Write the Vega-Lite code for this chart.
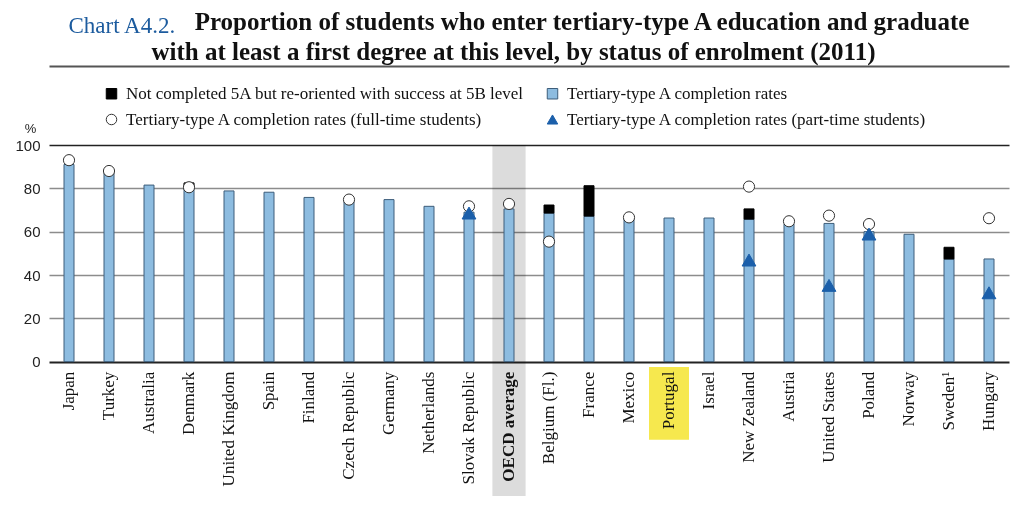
{
  "$schema": "https://vega.github.io/schema/vega-lite/v6.json",
  "width": 960,
  "height": 351,
  "autosize": {"type": "none"},
  "padding": {"left": 49, "top": 145, "right": 15, "bottom": 9},
  "background": "white",
  "config": {
    "view": {"stroke": null},
    "font": "Liberation Serif",
    "legend": {
      "orient": "none",
      "legendX": 54,
      "legendY": -60,
      "columns": 2,
      "columnPadding": 20,
      "rowPadding": 8,
      "labelFont": "Liberation Serif",
      "labelFontSize": 17,
      "labelColor": "#111111",
      "labelLimit": 700,
      "symbolSize": 110,
      "symbolStrokeWidth": 1,
      "labelOffset": 6
    }
  },
  "title": {
    "text": "Proportion of students who enter tertiary-type A education and graduate",
    "anchor": "middle",
    "frame": "group",
    "font": "Liberation Serif",
    "fontSize": 25,
    "fontWeight": "bold",
    "color": "#111111",
    "offset": -21,
    "dx": 53
  },
  "resolve": {"axis": {"x": "independent"}},
  "data": {
    "values": [
      {"country": "Japan", "rate": 91, "ft": 93},
      {"country": "Turkey", "rate": 87, "ft": 88},
      {"country": "Australia", "rate": 81.5},
      {"country": "Denmark", "rate": 80, "total": 82.5, "ft": 80.5},
      {"country": "United Kingdom", "rate": 78.8},
      {"country": "Spain", "rate": 78.2},
      {"country": "Finland", "rate": 75.8},
      {"country": "Czech Republic", "rate": 74, "ft": 74.8},
      {"country": "Germany", "rate": 74.8},
      {"country": "Netherlands", "rate": 71.7},
      {"country": "Slovak Republic", "rate": 69, "ft": 71.7, "pt": 68.6},
      {"country": "OECD average", "rate": 70.5, "ft": 72.8},
      {"country": "Belgium (Fl.)", "rate": 68.6, "total": 72.3, "ft": 55.4},
      {"country": "France", "rate": 67.2, "total": 81.2},
      {"country": "Mexico", "rate": 66, "ft": 66.6},
      {"country": "Portugal", "rate": 66.3},
      {"country": "Israel", "rate": 66.3},
      {"country": "New Zealand", "rate": 65.8, "total": 70.5, "ft": 80.8, "pt": 46.9},
      {"country": "Austria", "rate": 63.5, "ft": 64.8},
      {"country": "United States", "rate": 63.8, "ft": 67.4, "pt": 35.2},
      {"country": "Poland", "rate": 60, "ft": 63.5, "pt": 58.9},
      {"country": "Norway", "rate": 58.8},
      {"country": "Sweden¹", "rate": 47.4, "total": 52.8},
      {"country": "Hungary", "rate": 47.4, "ft": 66.2, "pt": 31.8}
    ]
  },
  "layer": [
    {
      "transform": [{"filter": "datum.country === 'OECD average'"}],
      "mark": {"type": "bar", "color": "#dcdcdc", "blend": "multiply", "width": {"band": 0.83}},
      "encoding": {
        "x": {
          "field": "country",
          "type": "nominal",
          "scale": {
            "domain": ["Japan", "Turkey", "Australia", "Denmark", "United Kingdom", "Spain", "Finland", "Czech Republic", "Germany", "Netherlands", "Slovak Republic", "OECD average", "Belgium (Fl.)", "France", "Mexico", "Portugal", "Israel", "New Zealand", "Austria", "United States", "Poland", "Norway", "Sweden¹", "Hungary"],
            "paddingInner": 0,
            "paddingOuter": 0
          },
          "axis": {
            "orient": "top",
            "offset": 79,
            "labels": false,
            "ticks": false,
            "grid": false,
            "domain": true,
            "domainColor": "#555555",
            "domainWidth": 2,
            "title": "Chart A4.2.",
            "titleFont": "Liberation Serif",
            "titleFontSize": 23,
            "titleFontWeight": "normal",
            "titleColor": "#1c5b9e",
            "titleAlign": "left",
            "titleBaseline": "alphabetic",
            "titleAngle": 0,
            "titleX": 19,
            "titleY": -34
          }
        },
        "y": {
          "datum": 100,
          "type": "quantitative",
          "scale": {"domain": [-62, 100], "nice": false, "zero": false},
          "axis": {
            "values": [0, 10, 20, 30, 40, 50, 60, 70, 80, 90, 100],
            "labelOverlap": false,
            "grid": true,
            "gridColor": {"condition": {"test": "datum.value === 0 || datum.value === 100", "value": "#222222"}, "value": "#8c8c8c"},
            "gridWidth": {"condition": {"test": "datum.value === 0", "value": 2}, "value": 1.4},
            "domain": false,
            "ticks": false,
            "labelFont": "Liberation Sans",
            "labelFontSize": 15,
            "labelColor": "#222222",
            "labelPadding": 9,
            "title": "%",
            "titleFont": "Liberation Sans",
            "titleFontSize": 13,
            "titleFontWeight": "normal",
            "titleColor": "#222222",
            "titleAngle": 0,
            "titleAlign": "center",
            "titleBaseline": "alphabetic",
            "titleX": -19,
            "titleY": -13
          }
        },
        "y2": {"datum": -62}
      }
    },
    {
      "transform": [{"filter": "datum.country === 'Portugal'"}],
      "mark": {"type": "bar", "color": "#f6e84e", "width": {"band": 1}},
      "encoding": {
        "x": {"field": "country", "type": "nominal", "axis": null},
        "y": {"datum": -2.5, "type": "quantitative"},
        "y2": {"datum": -36}
      }
    },
    {
      "mark": {"type": "bar", "width": {"band": 0.25}, "strokeWidth": 1},
      "encoding": {
        "x": {"field": "country", "type": "nominal", "axis": null},
        "y": {"field": "rate", "type": "quantitative"},
        "fill": {
          "datum": "Tertiary-type A completion rates",
          "type": "nominal",
          "scale": {
            "domain": ["Not completed 5A but re-oriented with success at 5B level", "Tertiary-type A completion rates (full-time students)", "Tertiary-type A completion rates", "Tertiary-type A completion rates (part-time students)"],
            "range": ["#000000", "#ffffff", "#8dbce0", "#1b5faa"]
          },
          "legend": {"title": null}
        },
        "stroke": {
          "datum": "Tertiary-type A completion rates",
          "type": "nominal",
          "scale": {
            "domain": ["Not completed 5A but re-oriented with success at 5B level", "Tertiary-type A completion rates (full-time students)", "Tertiary-type A completion rates", "Tertiary-type A completion rates (part-time students)"],
            "range": ["#000000", "#333333", "#3d5d7a", "#1b5faa"]
          },
          "legend": {"title": null}
        }
      }
    },
    {
      "transform": [{"filter": "isValid(datum.total)"}],
      "mark": {"type": "bar", "width": {"band": 0.25}, "strokeWidth": 1},
      "encoding": {
        "x": {"field": "country", "type": "nominal", "axis": null},
        "y": {"field": "rate", "type": "quantitative"},
        "y2": {"field": "total"},
        "fill": {"datum": "Not completed 5A but re-oriented with success at 5B level", "type": "nominal", "legend": {"title": null}},
        "stroke": {"datum": "Not completed 5A but re-oriented with success at 5B level", "type": "nominal", "legend": {"title": null}}
      }
    },
    {
      "transform": [{"filter": "isValid(datum.ft)"}],
      "mark": {"type": "point", "filled": true, "size": 125, "strokeWidth": 1, "opacity": 1},
      "encoding": {
        "x": {"field": "country", "type": "nominal", "axis": null},
        "y": {"field": "ft", "type": "quantitative"},
        "fill": {"datum": "Tertiary-type A completion rates (full-time students)", "type": "nominal", "legend": {"title": null}},
        "stroke": {"datum": "Tertiary-type A completion rates (full-time students)", "type": "nominal", "legend": {"title": null}},
        "shape": {
          "datum": "Tertiary-type A completion rates (full-time students)",
          "type": "nominal",
          "scale": {
            "domain": ["Not completed 5A but re-oriented with success at 5B level", "Tertiary-type A completion rates (full-time students)", "Tertiary-type A completion rates", "Tertiary-type A completion rates (part-time students)"],
            "range": ["square", "circle", "square", "triangle-up"]
          },
          "legend": {"title": null}
        }
      }
    },
    {
      "transform": [{"filter": "isValid(datum.pt)"}],
      "mark": {"type": "point", "filled": true, "size": 190, "strokeWidth": 1, "opacity": 1},
      "encoding": {
        "x": {"field": "country", "type": "nominal", "axis": null},
        "y": {"field": "pt", "type": "quantitative"},
        "fill": {"datum": "Tertiary-type A completion rates (part-time students)", "type": "nominal", "legend": {"title": null}},
        "stroke": {"datum": "Tertiary-type A completion rates (part-time students)", "type": "nominal", "legend": {"title": null}},
        "shape": {"datum": "Tertiary-type A completion rates (part-time students)", "type": "nominal", "legend": {"title": null}}
      }
    },
    {
      "transform": [{"filter": "datum.country !== 'OECD average'"}],
      "mark": {"type": "text", "angle": 270, "align": "right", "baseline": "middle", "font": "Liberation Serif", "fontSize": 17, "color": "#111111"},
      "encoding": {
        "x": {
          "field": "country",
          "type": "nominal",
          "axis": {
            "orient": "bottom",
            "labels": false,
            "ticks": false,
            "grid": false,
            "domain": false,
            "title": "with at least a first degree at this level, by status of enrolment (2011)",
            "titleFont": "Liberation Serif",
            "titleFontSize": 25,
            "titleFontWeight": "bold",
            "titleColor": "#111111",
            "titleAlign": "center",
            "titleBaseline": "alphabetic",
            "titleAngle": 0,
            "titleX": 464,
            "titleY": -437
          }
        },
        "y": {"datum": -4.6, "type": "quantitative"},
        "text": {"field": "country"}
      }
    },
    {
      "transform": [{"filter": "datum.country === 'OECD average'"}],
      "mark": {"type": "text", "angle": 270, "align": "right", "baseline": "middle", "font": "Liberation Serif", "fontSize": 17, "fontWeight": "bold", "color": "#111111"},
      "encoding": {
        "x": {"field": "country", "type": "nominal", "axis": null},
        "y": {"datum": -4.6, "type": "quantitative"},
        "text": {"field": "country"}
      }
    }
  ]
}
